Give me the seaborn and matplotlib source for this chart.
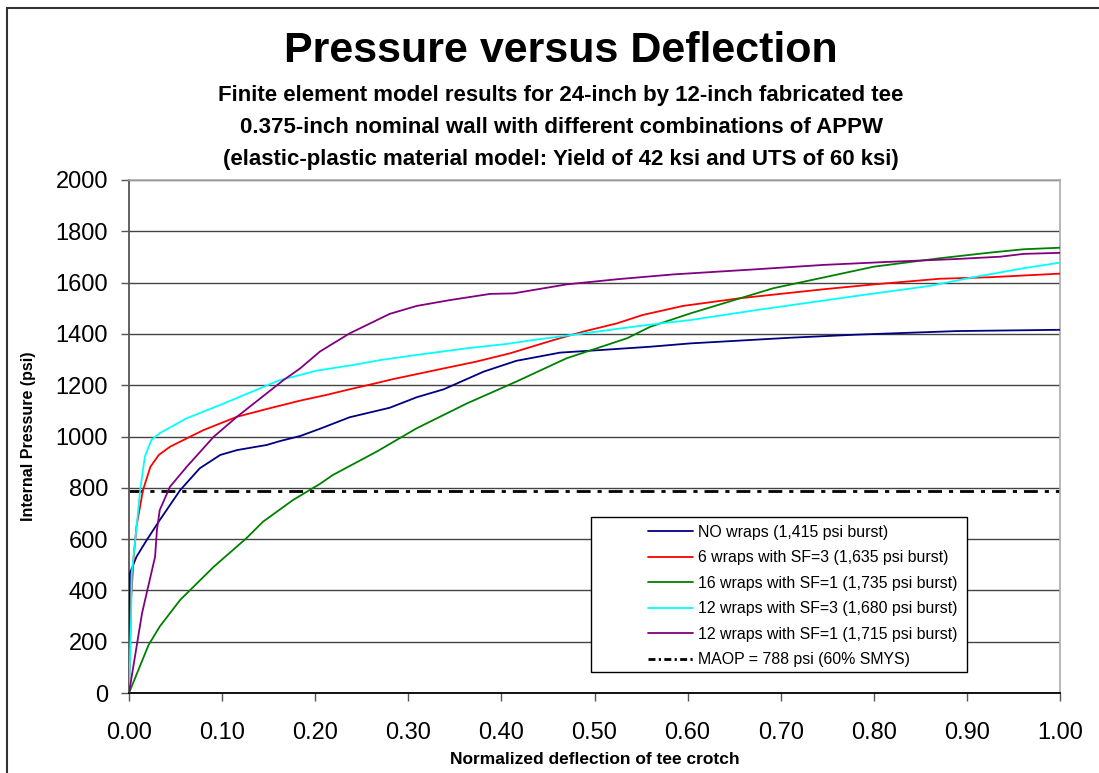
import numpy as np
import pandas as pd
import matplotlib
matplotlib.use("Agg")
import matplotlib.pyplot as plt
from matplotlib.patches import Rectangle
from matplotlib.lines import Line2D
import seaborn as sns

# ---------------- data ----------------
labels = [
    "NO wraps (1,415 psi burst)",
    "6 wraps with SF=3 (1,635 psi burst)",
    "16 wraps with SF=1 (1,735 psi burst)",
    "12 wraps with SF=3 (1,680 psi burst)",
    "12 wraps with SF=1 (1,715 psi burst)",
]
maop_label = "MAOP = 788 psi (60% SMYS)"
maop = 788

x_nowrap = [0, 0.001, 0.008, 0.019, 0.033, 0.055, 0.076, 0.098, 0.116, 0.148, 0.162, 0.184,
            0.205, 0.237, 0.280, 0.309, 0.338, 0.381, 0.416, 0.463, 0.506, 0.560, 0.603,
            0.710, 0.781, 0.889, 1.0]
y_nowrap = [0, 467, 531, 596, 674, 791, 876, 928, 947, 967, 982, 1002,
            1030, 1075, 1112, 1153, 1184, 1253, 1295, 1327, 1337, 1350, 1363,
            1385, 1397, 1411, 1416]

x_6sf3 = [0, 0.002, 0.005, 0.008, 0.015, 0.023, 0.032, 0.044, 0.080, 0.116, 0.151, 0.184,
          0.212, 0.237, 0.262, 0.284, 0.327, 0.373, 0.409, 0.456, 0.488, 0.524, 0.552,
          0.595, 0.656, 0.746, 0.800, 0.871, 0.925, 1.0]
y_6sf3 = [0, 350, 530, 648, 791, 882, 928, 960, 1025, 1077, 1110, 1140,
          1162, 1184, 1205, 1224, 1257, 1292, 1324, 1376, 1409, 1441, 1474,
          1509, 1539, 1574, 1593, 1615, 1621, 1635]

x_16sf1 = [0, 0.021, 0.033, 0.055, 0.091, 0.126, 0.144, 0.176, 0.205, 0.219, 0.266, 0.309,
           0.363, 0.416, 0.470, 0.535, 0.560, 0.603, 0.692, 0.800, 0.871, 0.925, 0.961, 1.0]
y_16sf1 = [0, 187, 259, 363, 492, 603, 668, 752, 815, 850, 941, 1032,
           1129, 1214, 1305, 1383, 1428, 1480, 1578, 1662, 1695, 1717, 1730, 1736]

x_12sf3 = [0, 0.002, 0.003, 0.006, 0.012, 0.017, 0.024, 0.033, 0.062, 0.098, 0.162, 0.184,
           0.202, 0.241, 0.270, 0.309, 0.363, 0.406, 0.434, 0.470, 0.542, 0.578, 0.603,
           0.674, 0.781, 0.860, 0.907, 0.961, 1.0]
y_12sf3 = [0, 250, 467, 570, 791, 921, 986, 1013, 1071, 1123, 1220, 1240,
           1257, 1279, 1298, 1318, 1344, 1361, 1376, 1393, 1428, 1444, 1454,
           1493, 1548, 1587, 1621, 1656, 1678]

x_12sf1 = [0, 0.014, 0.028, 0.030, 0.033, 0.044, 0.062, 0.091, 0.116, 0.166, 0.184, 0.205,
           0.237, 0.280, 0.309, 0.345, 0.388, 0.413, 0.470, 0.524, 0.585, 0.674, 0.746,
           0.817, 0.889, 0.936, 0.961, 1.0]
y_12sf1 = [0, 311, 531, 635, 713, 804, 882, 999, 1077, 1220, 1266, 1331,
           1402, 1478, 1509, 1532, 1556, 1558, 1593, 1613, 1632, 1652, 1669,
           1681, 1692, 1701, 1712, 1716]

colors = ["#000080", "#FF0000", "#008000", "#00FFFF", "#800080"]

xs = [x_nowrap, x_6sf3, x_16sf1, x_12sf3, x_12sf1]
ys = [y_nowrap, y_6sf3, y_16sf1, y_12sf3, y_12sf1]

frames = []
for lab, xv, yv in zip(labels, xs, ys):
    frames.append(pd.DataFrame({"x": xv, "y": yv, "series": lab}))
df = pd.concat(frames, ignore_index=True)

xticks = [0.0, 0.1, 0.2, 0.3, 0.4, 0.5, 0.6, 0.7, 0.8, 0.9, 1.0]
yticks = [0, 200, 400, 600, 800, 1000, 1200, 1400, 1600, 1800, 2000]

# ---------------- figure ----------------
sns.set_theme(style="white")
plt.rcParams["font.family"] = ["Liberation Sans", "DejaVu Sans"]
plt.rcParams["text.color"] = "black"
plt.rcParams["axes.labelcolor"] = "black"
plt.rcParams["xtick.color"] = "black"
plt.rcParams["ytick.color"] = "black"

W, H = 1099, 773
fig = plt.figure(figsize=(W / 100, H / 100), dpi=100)
fig.patch.set_facecolor("white")

L, R, T, B = 129, 1060, 180, 693
ax = fig.add_axes([L / W, 1 - B / H, (R - L) / W, (B - T) / H])

palette = dict(zip(labels, colors))
sns.lineplot(data=df, x="x", y="y", hue="series", palette=palette, hue_order=labels,
             sort=False, estimator=None, linewidth=1.3, legend=False, ax=ax, zorder=3)
ax.axhline(maop, color="black", linewidth=2.0, linestyle=(0, (5, 2.5, 1.5, 2.5)), zorder=2.5)

ax.set_xlim(0, 1.0)
ax.set_ylim(0, 2000)
ax.set_xticks(xticks)
ax.set_yticks(yticks)
ax.set_xticklabels([f"{v:.2f}" for v in xticks], fontsize=17, color="black")
ax.set_yticklabels([f"{v:d}" for v in yticks], fontsize=17, color="black")
ax.tick_params(axis="x", direction="out", length=6, width=1, pad=15,
               color="#555555", labelcolor="black", bottom=True)
ax.tick_params(axis="y", direction="out", length=6, width=1, pad=9,
               color="#555555", labelcolor="black", left=True)

ax.yaxis.grid(True, color="#444444", linewidth=1.0, zorder=1)
ax.xaxis.grid(False)
ax.set_axisbelow(True)

for side in ["top", "right"]:
    ax.spines[side].set_color("#aaaaaa")
    ax.spines[side].set_linewidth(1.2)
ax.spines["left"].set_color("#555555")
ax.spines["left"].set_linewidth(1.3)
ax.spines["bottom"].set_color("black")
ax.spines["bottom"].set_linewidth(1.3)

ax.set_xlabel("Normalized deflection of tee crotch", fontsize=12.5, fontweight="bold",
              labelpad=6, color="black")
ax.set_ylabel("Internal Pressure (psi)", fontsize=11.5, fontweight="bold", labelpad=14,
              color="black")

# legend box
bx0 = (591 - L) / (R - L)
bx1 = (967 - L) / (R - L)
by0 = (B - 672) / (B - T)
by1 = (B - 517) / (B - T)
ax.add_patch(Rectangle((bx0, by0), bx1 - bx0, by1 - by0, transform=ax.transAxes,
                       facecolor="white", edgecolor="black", linewidth=1.0, zorder=4))

handles = [Line2D([], [], color=c, linewidth=1.3) for c in colors]
handles.append(Line2D([], [], color="black", linewidth=2.0, linestyle=(0, (2.5, 1.2, 0.8, 1.2))))
leg = ax.legend(handles, labels + [maop_label], loc="upper left",
                bbox_to_anchor=((648 - L) / (R - L), (B - 525) / (B - T)),
                frameon=False, fontsize=11.4, handlelength=2.85, handletextpad=0.3,
                labelspacing=0.66, borderpad=0, borderaxespad=0)
for t in leg.get_texts():
    t.set_color("black")
leg.set_zorder(5)

# titles
def fy(py):
    return 1 - py / H

fig.text(561 / W, fy(62), "Pressure versus Deflection", ha="center", va="baseline",
         fontsize=31, fontweight="bold", color="black")
sub = ["Finite element model results for 24-inch by 12-inch fabricated tee",
       "0.375-inch nominal wall with different combinations of APPW",
       "(elastic-plastic material model: Yield of 42 ksi and UTS of 60 ksi)"]
for i, s in enumerate(sub):
    fig.text(561 / W, fy(101 + 32 * i), s, ha="center", va="baseline",
             fontsize=16, fontweight="bold", color="black")

# chart-area border
fig.add_artist(Rectangle((6.5 / W, -0.05), 1.2, fy(7.5) + 0.05, transform=fig.transFigure,
                         facecolor="none", edgecolor="#333333", linewidth=1.5))

fig.savefig("out.png", dpi=100, facecolor="white")
